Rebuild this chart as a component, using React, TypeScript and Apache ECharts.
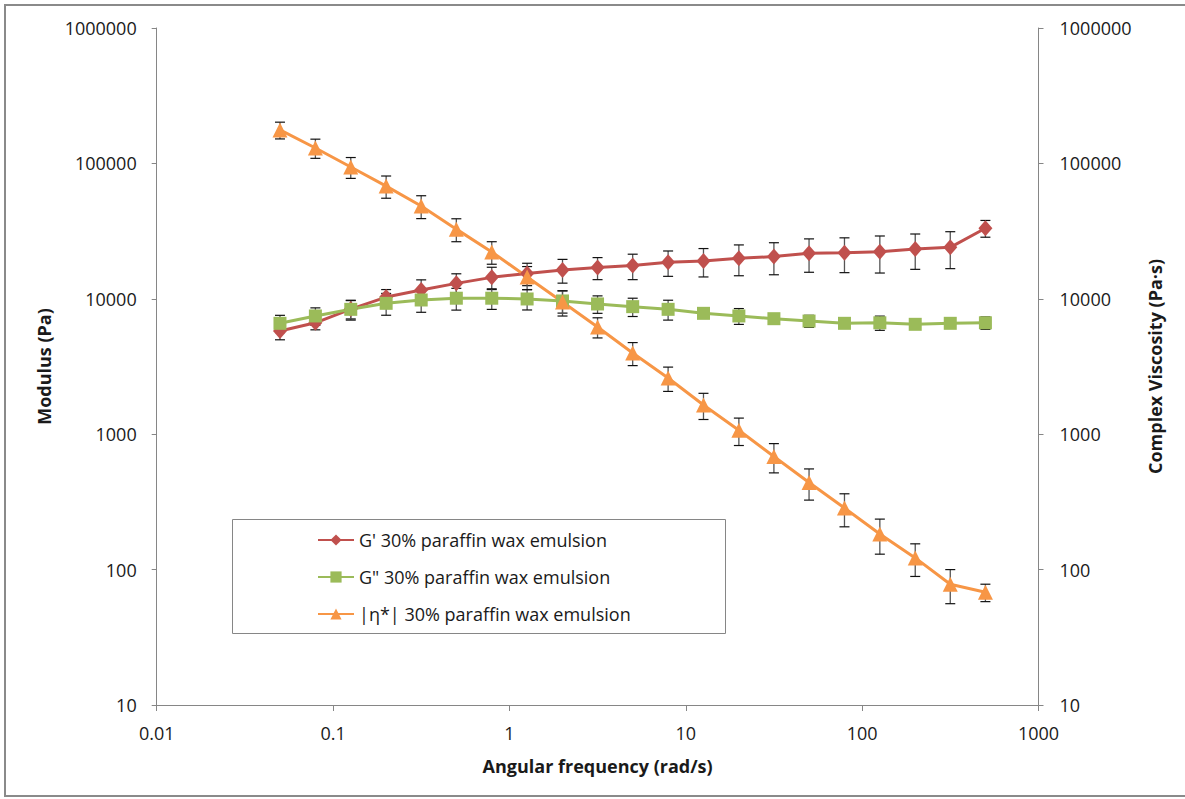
import React, { useEffect, useRef } from 'react';
import * as echarts from 'echarts';

const frequency = [0.05, 0.0794, 0.126, 0.2, 0.316, 0.5, 0.794, 1.26, 2, 3.16, 5, 7.94, 12.6, 20, 31.6, 50, 79.4, 126, 200, 316, 500];

const gPrime = [5780, 6650, 8400, 10300, 11600, 13000, 14400, 15400, 16300, 17000, 17600, 18600, 19000, 19900, 20500, 21700, 21900, 22300, 23300, 24000, 33200];
const gPrimeErr = [800, 750, 1300, 1400, 2200, 2300, 2700, 2900, 3250, 3150, 3750, 3950, 4500, 5100, 5450, 6000, 6300, 6800, 6800, 7300, 4700];

const gDouble = [6590, 7470, 8360, 9260, 9800, 10100, 10100, 9970, 9640, 9160, 8750, 8360, 7810, 7470, 7130, 6850, 6590, 6650, 6480, 6590, 6650];
const gDoubleErr = [960, 1100, 1400, 1700, 1850, 1850, 1750, 1700, 1800, 1350, 1350, 1400, 600, 1000, 600, 700, 400, 800, 500, 500, 700];

const eta = [176600, 130000, 94000, 68000, 48400, 32700, 22200, 14500, 9460, 6190, 3980, 2600, 1644, 1070, 685, 440, 285, 183, 122, 78, 68];
const etaErr = [25000, 21000, 16500, 12700, 9300, 6300, 4200, 2800, 2000, 1050, 770, 530, 360, 245, 167, 114, 78, 53, 33, 22, 10];

const seriesNames = [
  "G' 30% paraffin wax emulsion",
  'G" 30% paraffin wax emulsion',
  '|η*| 30% paraffin wax emulsion',
];
const colors = ['#C0504D', '#9BBB59', '#F79646'];

const FONT = "'Open Sans', 'Noto Sans', sans-serif";
const TEXT = '#1a1a1a';
const AXIS = '#868686';

function errorSeries(values: number[], errs: number[], yAxisIndex: number) {
  return {
    type: 'custom',
    yAxisIndex,
    z: 1,
    silent: true,
    encode: { x: 0, y: 1 },
    data: frequency.map((f, i) => [f, values[i], errs[i]]),
    renderItem: (params: any, api: any) => {
      const x = api.value(0);
      const v = api.value(1);
      const e = api.value(2);
      const top = api.coord([x, v + e]);
      const bot = api.coord([x, Math.max(v - e, 1e-6)]);
      const hw = 5;
      return {
        type: 'group',
        children: [
          { type: 'line', shape: { x1: top[0], y1: top[1], x2: bot[0], y2: bot[1] }, style: { stroke: '#555', lineWidth: 1.3 } },
          { type: 'line', shape: { x1: top[0] - hw, y1: top[1], x2: top[0] + hw, y2: top[1] }, style: { stroke: '#111', lineWidth: 1.2 } },
          { type: 'line', shape: { x1: bot[0] - hw, y1: bot[1], x2: bot[0] + hw, y2: bot[1] }, style: { stroke: '#111', lineWidth: 1.2 } },
        ],
      };
    },
  };
}

export default function App() {
  const ref = useRef<HTMLDivElement>(null);
  useEffect(() => {
    const chart = echarts.init(ref.current!, null, { renderer: 'svg' });
    const yLabel = (v: number) => String(Math.round(v));
    const yAxisBase = {
      type: 'log',
      logBase: 10,
      min: 10,
      max: 1000000,
      splitNumber: 5,
      splitLine: { show: false },
      axisLine: { show: true, lineStyle: { color: AXIS, width: 1 } },
      axisTick: { show: true, length: 5, lineStyle: { color: AXIS } },
      nameLocation: 'middle',
      nameTextStyle: { fontFamily: FONT, fontSize: 18, fontWeight: 'bold', color: TEXT },
    };
    const option: any = {
      animation: false,
      backgroundColor: '#fff',
      textStyle: { fontFamily: FONT },
      grid: { left: 156.7, right: 146.5, top: 28, bottom: 94, containLabel: false },
      xAxis: {
        type: 'log',
        logBase: 10,
        min: 0.01,
        max: 1000,
        splitNumber: 5,
        splitLine: { show: false },
        axisLine: { show: true, lineStyle: { color: AXIS, width: 1 } },
        axisTick: { show: true, length: 6, lineStyle: { color: AXIS } },
        axisLabel: {
          fontFamily: FONT,
          fontSize: 18,
          color: TEXT,
          margin: 19,
          formatter: (v: number) => (v < 1 ? String(+v.toPrecision(3)) : String(Math.round(v))),
        },
        name: 'Angular frequency (rad/s)',
        nameLocation: 'middle',
        nameGap: 52,
        nameTextStyle: { fontFamily: FONT, fontSize: 18, fontWeight: 'bold', color: TEXT },
      },
      yAxis: [
        {
          ...yAxisBase,
          position: 'left',
          axisLabel: { fontFamily: FONT, fontSize: 18, color: TEXT, margin: 20, formatter: yLabel },
          name: 'Modulus (Pa)',
          nameGap: 104,
        },
        {
          ...yAxisBase,
          position: 'right',
          axisLabel: { fontFamily: FONT, fontSize: 18, color: TEXT, margin: 21, formatter: yLabel },
          name: 'Complex Viscosity (Pa·s)',
          nameGap: 107,
        },
      ],
      legend: {
        data: seriesNames,
        orient: 'vertical',
        left: 317,
        top: 529,
        padding: 0,
        itemWidth: 36,
        itemHeight: 14,
        itemGap: 15,
        z: 10,
        selectedMode: false,
        textStyle: { fontFamily: FONT, fontSize: 18, color: TEXT, lineHeight: 22 },
      },
      graphic: [
        {
          type: 'polyline',
          z: 0,
          silent: true,
          shape: { points: [[1190, 5], [5, 5], [5, 796], [1190, 796]] },
          style: { fill: 'none', stroke: '#8a8a8a', lineWidth: 2 },
        },
        {
          type: 'rect',
          z: 5,
          silent: true,
          shape: { x: 232.5, y: 519.5, width: 493, height: 114 },
          style: { fill: '#fff', stroke: AXIS, lineWidth: 1 },
        },
      ],
      series: [
        errorSeries(gPrime, gPrimeErr, 0),
        errorSeries(gDouble, gDoubleErr, 0),
        errorSeries(eta, etaErr, 1),
        {
          name: seriesNames[0],
          type: 'line',
          yAxisIndex: 0,
          z: 3,
          data: frequency.map((f, i) => [f, gPrime[i]]),
          symbol: 'diamond',
          symbolSize: [14, 16],
          lineStyle: { width: 3, color: colors[0] },
          itemStyle: { color: colors[0] },
        },
        {
          name: seriesNames[1],
          type: 'line',
          yAxisIndex: 0,
          z: 3,
          data: frequency.map((f, i) => [f, gDouble[i]]),
          symbol: 'rect',
          symbolSize: 13,
          lineStyle: { width: 3, color: colors[1] },
          itemStyle: { color: colors[1] },
        },
        {
          name: seriesNames[2],
          type: 'line',
          yAxisIndex: 1,
          z: 3,
          data: frequency.map((f, i) => [f, eta[i]]),
          symbol: 'triangle',
          symbolSize: 15,
          lineStyle: { width: 3, color: colors[2] },
          itemStyle: { color: colors[2] },
        },
      ],
    };
    chart.setOption(option);
    return () => chart.dispose();
  }, []);
  return (
    <div
      ref={ref}
      style={{ position: 'fixed', left: 0, top: 0, width: 1185, height: 799, background: '#fff' }}
    />
  );
}
